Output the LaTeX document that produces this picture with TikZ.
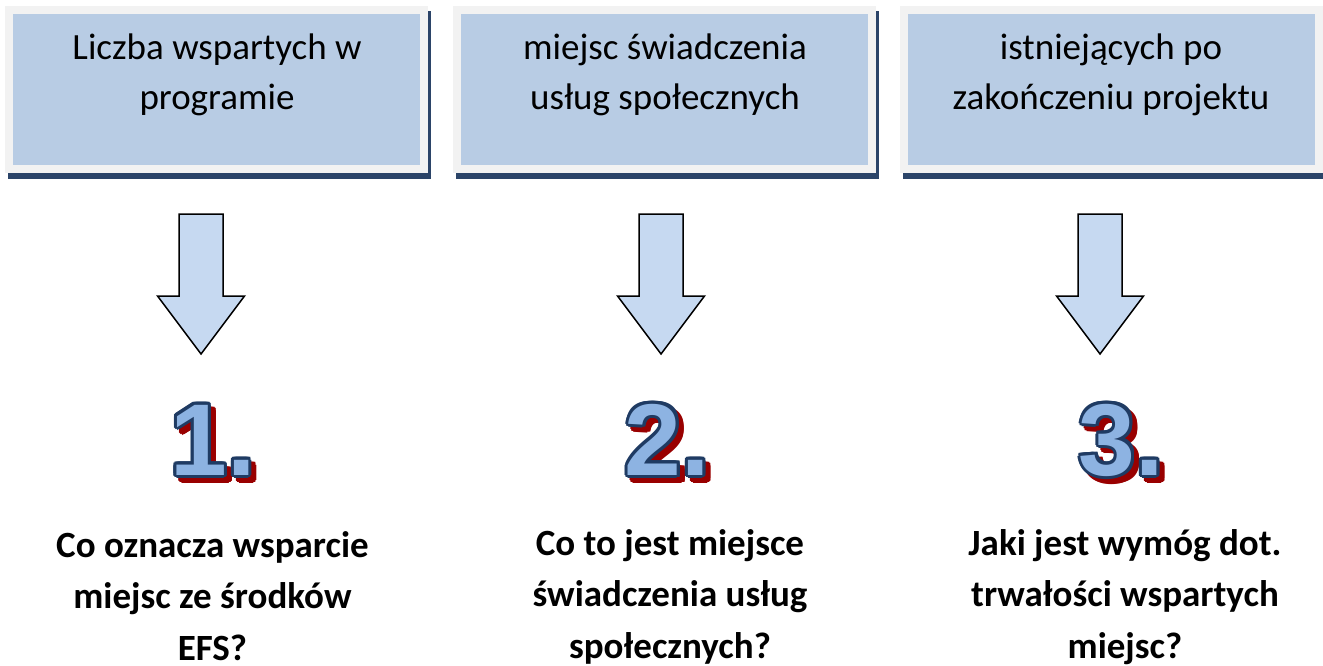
\documentclass[tikz,border=0pt]{standalone}
\usepackage{fontspec}
\setmainfont{Carlito}
\newfontfamily\numfont{Liberation Sans}
\usetikzlibrary{calc, backgrounds}
\definecolor{boxblue}{HTML}{B8CCE4}
\definecolor{framegray}{HTML}{F2F2F2}
\definecolor{boxshadow}{HTML}{2B4468}
\definecolor{arrowblue}{HTML}{C6D9F1}
\definecolor{numfill}{HTML}{8DB3E2}
\definecolor{numnavy}{HTML}{1F3B63}
\definecolor{numred}{HTML}{990000}

\begin{document}
\begin{tikzpicture}[x=1pt, y=-1pt]
    \tikzstyle{infobox} = [rectangle, fill=boxblue, draw=framegray, line width=8pt, minimum width=415pt, minimum height=159pt, inner sep=0pt]
    \tikzstyle{toptext} = [align=center, font=\fontsize{37}{50}\selectfont, anchor=base, inner sep=0pt]
    \tikzstyle{question} = [align=center, font=\bfseries\fontsize{37}{51.5}\selectfont, anchor=base, inner sep=0pt]
    \tikzstyle{blockarrow} = [draw=black, line width=1.5pt, fill=arrowblue, line join=miter]
    \tikzstyle{digit} = [font=\numfont\bfseries\fontsize{102}{102}\selectfont, anchor=base, inner sep=0pt]

    \useasboundingbox (0,0) rectangle (1323,666);

    % boxes on top
    \node[infobox] (b1) at (216.5,90) {};
    \node[infobox] (b2) at (664.5,90) {};
    \node[infobox] (b3) at (1111,90) {};

    \begin{scope}[on background layer]
        \foreach \b in {b1,b2,b3}
            \fill[boxshadow] ($(\b.north west)+(3,5)$) rectangle ($(\b.south east)+(3,6)$);
    \end{scope}

    \node[toptext] (t1) at (217,110) {Liczba wspartych w\\programie};
    \node[toptext] (t2) at (665,110) {miejsc świadczenia\\usług społecznych};
    \node[toptext] (t3) at (1111,110) {istniejących po\\zakończeniu projektu};

    % block arrows
    \foreach \n/\x in {1/201, 2/661, 3/1100}{
        \coordinate (a\n) at (\x,214);
        \draw[blockarrow] (a\n) ++(-22,0) -- ++(44,0) -- ++(0,82) -- ++(21.5,0)
            -- ++(-43.5,58) -- ++(-43.5,-58) -- ++(21.5,0) -- cycle;
    }

    % numbers with outline and shadow
    \foreach \n/\x/\t in {1/213/1., 2/667.5/2., 3/1121.5/3.}{
        \node[digit, text=numred] (s\n) at ($(\x,475)+(5,5)$) {\t};
        \foreach \k in {0,...,15}
            \node[digit, text=numred] (s\n-\k) at ($(\x,475)+(5,5)+(\k*22.5:3)$) {\t};
        \foreach \k in {0,...,15}
            \node[digit, text=numnavy] (o\n-\k) at ($(\x,475)+(\k*22.5:3)$) {\t};
        \node[digit, text=numfill] (d\n) at (\x,475) {\t};
    }

    % questions
    \node[question] (q1) at (212.5,660) {Co oznacza wsparcie\\miejsc ze środków\\EFS?};
    \node[question] (q2) at (670,658) {Co to jest miejsce\\świadczenia usług\\społecznych?};
    \node[question] (q3) at (1125,658) {Jaki jest wymóg dot.\\trwałości wspartych\\miejsc?};
\end{tikzpicture}
\end{document}
